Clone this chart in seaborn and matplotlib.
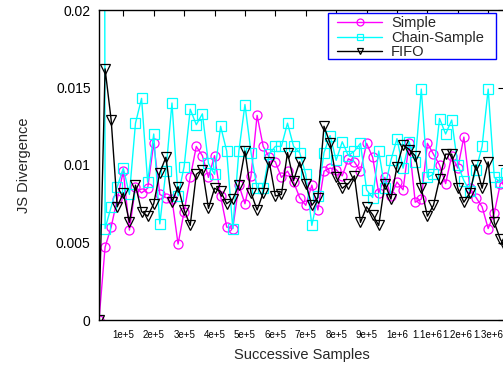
import numpy as np
import pandas as pd
import matplotlib
matplotlib.use("Agg")
import matplotlib.pyplot as plt
import seaborn as sns
from matplotlib.lines import Line2D
from matplotlib.patches import Rectangle

samples = list(range(20000, 1380000, 20000))  # 68 sample positions

simple = [0, 0.0047, 0.0060, 0.0078, 0.0096, 0.0058, 0.0086, 0.0082, 0.0085, 0.0114,
          0.0081, 0.0079, 0.0078, 0.0049, 0.0070, 0.0092, 0.0112, 0.0106, 0.0092, 0.0106,
          0.0080, 0.0060, 0.0059, 0.0087, 0.0075, 0.0093, 0.0132, 0.0112, 0.0105, 0.0102,
          0.0092, 0.0096, 0.0089, 0.0079, 0.0074, 0.0087, 0.0071, 0.0096, 0.0098, 0.0097,
          0.0093, 0.0104, 0.0102, 0.0096, 0.0114, 0.0105, 0.0082, 0.0092, 0.0080, 0.0089,
          0.0084, 0.0114, 0.0076, 0.0078, 0.0114, 0.0107, 0.0100, 0.0088, 0.0106, 0.0098,
          0.0118, 0.0085, 0.0079, 0.0073, 0.0059, 0.0069, 0.0088, 0.0090]

chain_sample = [0.3, 0.0059, 0.0073, 0.0086, 0.0098, 0.0081, 0.0127, 0.0143, 0.0089, 0.0120,
                0.0062, 0.0096, 0.0140, 0.0080, 0.0099, 0.0136, 0.0126, 0.0133, 0.0101, 0.0094,
                0.0125, 0.0109, 0.0059, 0.0109, 0.0139, 0.0108, 0.0085, 0.0085, 0.0107, 0.0112,
                0.0112, 0.0127, 0.0112, 0.0108, 0.0094, 0.0061, 0.0080, 0.0108, 0.0119, 0.0103,
                0.0115, 0.0106, 0.0109, 0.0114, 0.0084, 0.0079, 0.0109, 0.0085, 0.0103, 0.0117,
                0.0098, 0.0115, 0.0102, 0.0149, 0.0092, 0.0094, 0.0130, 0.0120, 0.0129, 0.0100,
                0.0090, 0.0083, 0.0097, 0.0112, 0.0149, 0.0092, 0.0089, 0.0095]

fifo = [0, 0.0162, 0.0129, 0.0073, 0.0082, 0.0063, 0.0087, 0.0070, 0.0067, 0.0075,
        0.0095, 0.0105, 0.0076, 0.0086, 0.0071, 0.0061, 0.0094, 0.0097, 0.0072, 0.0085,
        0.0083, 0.0075, 0.0078, 0.0087, 0.0109, 0.0082, 0.0071, 0.0082, 0.0102, 0.0080,
        0.0081, 0.0108, 0.0090, 0.0102, 0.0088, 0.0074, 0.0079, 0.0125, 0.0114, 0.0092,
        0.0085, 0.0088, 0.0093, 0.0063, 0.0073, 0.0068, 0.0061, 0.0088, 0.0078, 0.0099,
        0.0113, 0.0110, 0.0106, 0.0085, 0.0067, 0.0074, 0.0091, 0.0107, 0.0107, 0.0085,
        0.0076, 0.0082, 0.0100, 0.0085, 0.0102, 0.0063, 0.0052, 0.0046]

series_names = ["Simple", "Chain-Sample", "FIFO"]
series_colors = ["#ff00ff", "#00ffff", "#000000"]
series_markers = ["o", "s", "v"]

xticks = [100000, 200000, 300000, 400000, 500000, 600000, 700000, 800000, 900000,
          1000000, 1100000, 1200000, 1300000]
xtick_labels = ["1e+5", "2e+5", "3e+5", "4e+5", "5e+5", "6e+5", "7e+5", "8e+5", "9e+5",
                "1e+6", "1.1e+6", "1.2e+6", "1.3e+6"]
yticks = [0, 0.005, 0.01, 0.015, 0.02]
ytick_labels = ["0", "0.005", "0.01", "0.015", "0.02"]

sns.set_theme(style="white")
plt.rcParams["font.family"] = ["Liberation Sans", "DejaVu Sans"]

fig = plt.figure(figsize=(5.03, 3.70), dpi=100)
# axes spans pixels x 99..504, y 10..320
ax = fig.add_axes([99 / 503, 50 / 370, 405 / 503, 310 / 370])

df = pd.DataFrame({"x": samples, "Simple": simple, "Chain-Sample": chain_sample, "FIFO": fifo})

handles = []
for name, col, mk in zip(series_names, series_colors, series_markers):
    sns.lineplot(data=df, x="x", y=name, ax=ax, color=col, marker=mk,
                 markersize=6.5, markerfacecolor="none", markeredgecolor=col,
                 markeredgewidth=0.9, linewidth=1.0, legend=False)
    handles.append(Line2D([], [], color=col, marker=mk, markersize=5,
                          markerfacecolor="none", markeredgecolor=col,
                          markeredgewidth=0.9, linewidth=1.0, label=name))

ax.set_xlim(20000, 1352000)
ax.set_ylim(0, 0.02)
ax.set_xticks(xticks)
ax.set_xticklabels(xtick_labels, fontsize=7)
ax.set_yticks(yticks)
ax.set_yticklabels(ytick_labels, fontsize=10)
ax.tick_params(direction="in", length=4.5, width=0.8, top=True, right=True,
               colors="black")
ax.tick_params(axis="x", pad=7)
ax.tick_params(axis="y", pad=6)
for s in ax.spines.values():
    s.set_color("black")
    s.set_linewidth(1.0)

ax.set_xlabel("Successive Samples", fontsize=10.5, labelpad=6)
ax.set_ylabel("JS Divergence", fontsize=10.5, labelpad=18)

# legend frame: px x 328..496, y 13..59
box = Rectangle(((328 - 99) / 405, (320 - 59) / 310), 168 / 405, 46 / 310,
                transform=ax.transAxes, facecolor="white", edgecolor="#0000ff",
                linewidth=1.0, zorder=4.5, clip_on=False)
ax.add_patch(box)
leg = ax.legend(handles=handles, loc="upper left",
                bbox_to_anchor=((334 - 99) / 405, 1 - 3 / 310),
                bbox_transform=ax.transAxes, fontsize=10.5, frameon=False,
                handlelength=3.1, handletextpad=0.6,
                borderpad=0.2, labelspacing=0.05, borderaxespad=0, numpoints=1)
leg.set_zorder(5)

fig.savefig("out.png", dpi=100)
